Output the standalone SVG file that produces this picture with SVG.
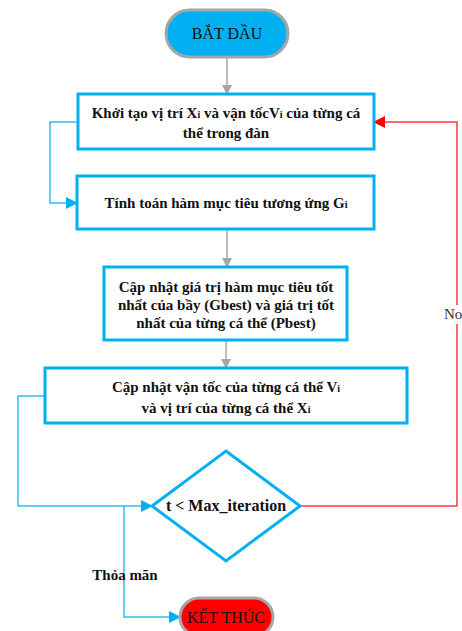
<svg xmlns="http://www.w3.org/2000/svg" width="462" height="631" viewBox="0 0 462 631">
<defs>
<marker id="ag" markerWidth="10" markerHeight="10" refX="9" refY="5" orient="auto" markerUnits="userSpaceOnUse"><path d="M0,0 L10,5 L0,10 z" fill="#A6A6A6"/></marker>
<marker id="ab" markerWidth="12" markerHeight="12" refX="11" refY="6" orient="auto" markerUnits="userSpaceOnUse"><path d="M0,0 L12,6 L0,12 z" fill="#00B0F0"/></marker>
<marker id="ar" markerWidth="12" markerHeight="12" refX="11" refY="6" orient="auto" markerUnits="userSpaceOnUse"><path d="M0,0 L12,6 L0,12 z" fill="#FF0000"/></marker>
</defs>
<style>
.box{fill:#fff;stroke:#00B0F0;stroke-width:3}
text{font-family:'Liberation Serif','Times New Roman',serif}
.t{font-size:15px;font-weight:bold;fill:#111;text-anchor:middle}
.term{font-size:16px;fill:#111;text-anchor:middle}
.sub{font-size:10px}
.cg{fill:none;stroke:#A6A6A6;stroke-width:1.5}
.cb{fill:none;stroke:#33BDF2;stroke-width:1.5}
.cr{fill:none;stroke:#FF3B3B;stroke-width:1.5}
</style>
<rect width="462" height="631" fill="#fff"/>
<g id="connectors">
<path class="cg" d="M227,57 V94" marker-end="url(#ag)"/>
<path class="cg" d="M227,229 V267" marker-end="url(#ag)"/>
<path class="cg" d="M226,340 V368" marker-end="url(#ag)"/>
<path class="cb" d="M78,122 H50 V203 H77" marker-end="url(#ab)"/>
<path class="cb" d="M45,396 H18 V506 H152" marker-end="url(#ab)"/>
<path class="cb" d="M124,506 V617 H180" marker-end="url(#ab)"/>
<path class="cr" d="M300,506 H457 V122 H374" marker-end="url(#ar)"/>
<rect x="440" y="305" width="22" height="19" fill="#fff"/>
<text x="444" y="319" font-size="15" fill="#333">No</text>
<text x="125" y="580" class="t">Thỏa mãn</text>
</g>
<g id="start">
<rect x="166" y="10" width="122" height="47" rx="23.5" fill="#00B0F0" stroke="#A6A6A6" stroke-width="3"/>
<text x="227" y="39" class="term">BẮT ĐẦU</text>
</g>
<g id="init">
<rect class="box" x="78" y="94" width="296" height="55"/>
<text class="t" x="226" y="118">Khởi tạo vị trí X<tspan class="sub">i</tspan> và vận tốcV<tspan class="sub">i</tspan> của từng cá</text>
<text class="t" x="226" y="138">thể trong đàn</text>
</g>
<g id="compute">
<rect class="box" x="77" y="176" width="297" height="53"/>
<text class="t" x="226" y="208">Tính toán hàm mục tiêu tương ứng G<tspan class="sub">i</tspan></text>
</g>
<g id="update-best">
<rect class="box" x="104" y="267" width="243" height="73"/>
<text class="t" x="226" y="292">Cập nhật giá trị hàm mục tiêu tốt</text>
<text class="t" x="226" y="310">nhất của bầy (Gbest) và giá trị tốt</text>
<text class="t" x="226" y="328">nhất của từng cá thể  (Pbest)</text>
</g>
<g id="update-pos">
<rect class="box" x="45" y="368" width="362" height="55"/>
<text class="t" x="226" y="392">Cập nhật vận tốc của từng cá thể V<tspan class="sub">i</tspan></text>
<text class="t" x="226" y="413">và vị trí của từng cá thể X<tspan class="sub">i</tspan></text>
</g>
<g id="decision">
<polygon points="226,451 300,506 226,561 152,506" fill="#fff" stroke="#00B0F0" stroke-width="3"/>
<text class="t" x="226" y="511" style="font-size:16px">t &lt; Max_iteration</text>
</g>
<g id="end">
<rect x="180" y="598" width="93" height="38" rx="19" fill="#FF0000" stroke="#A6A6A6" stroke-width="3"/>
<text x="226" y="623" class="term">KẾT THÚC</text>
</g>
</svg>
